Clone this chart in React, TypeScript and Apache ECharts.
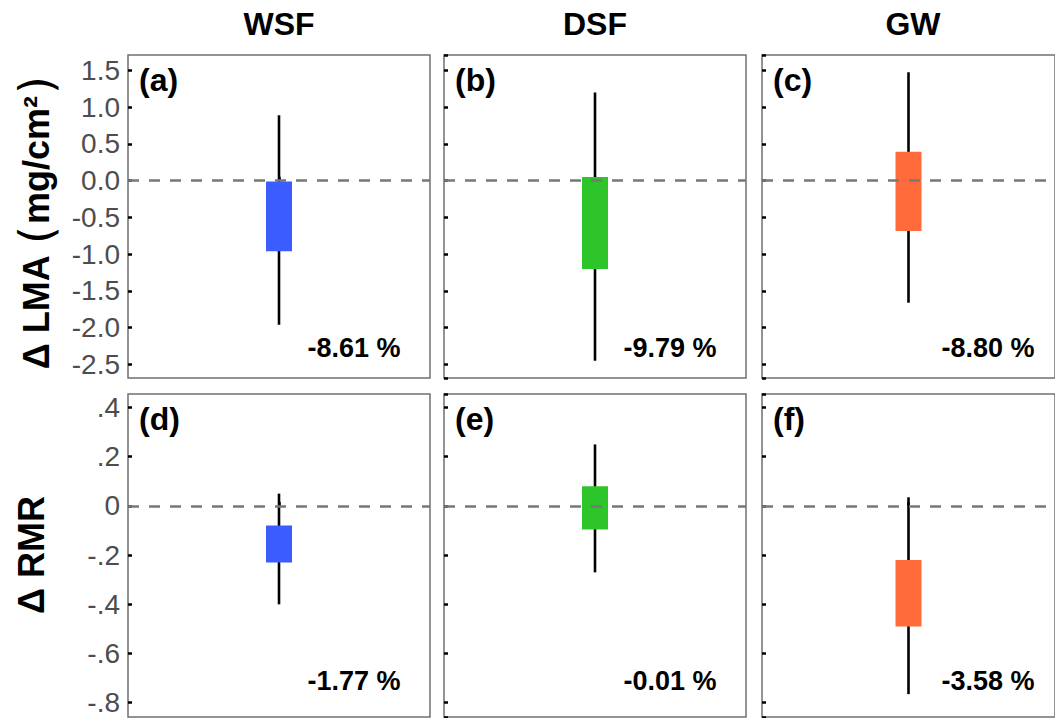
import React, { useEffect, useRef } from "react";
import * as echarts from "echarts";

const groups = ["WSF", "DSF", "GW"];
const groupColors = ["#3b5cff", "#2ec52a", "#ff6b3b"];

const lmaMax = [0.89, 1.2, 1.475];
const lmaQ3 = [-0.01, 0.05, 0.395];
const lmaQ1 = [-0.96, -1.2, -0.685];
const lmaMin = [-1.96, -2.45, -1.66];
const lmaPct = ["-8.61 %", "-9.79 %", "-8.80 %"];
const lmaLetters = ["(a)", "(b)", "(c)"];

const rmrMax = [0.05, 0.25, 0.035];
const rmrQ3 = [-0.08, 0.08, -0.22];
const rmrQ1 = [-0.23, -0.096, -0.49];
const rmrMin = [-0.4, -0.27, -0.765];
const rmrPct = ["-1.77 %", "-0.01 %", "-3.58 %"];
const rmrLetters = ["(d)", "(e)", "(f)"];

const lmaRange = [-2.684, 1.71];
const rmrRange = [-0.858, 0.455];

const panelLefts = [128, 444, 762];
const panelWidth = 302;
const rowTops = [55, 394];
const panelHeight = 323;

export default function App() {
  const ref = useRef<HTMLDivElement>(null);
  useEffect(() => {
    if (!ref.current) return;
    const chart = echarts.init(ref.current, null, { renderer: "svg" });
    const grids: any[] = [];
    const xAxes: any[] = [];
    const yAxes: any[] = [];
    const series: any[] = [];
    const graphics: any[] = [];

    const rows = [
      { max: lmaMax, q3: lmaQ3, q1: lmaQ1, min: lmaMin, pct: lmaPct, letters: lmaLetters, range: lmaRange, split: 9, fmt: (v: number) => v.toFixed(1) },
      {
        max: rmrMax, q3: rmrQ3, q1: rmrQ1, min: rmrMin, pct: rmrPct, letters: rmrLetters, range: rmrRange, split: 6,
        fmt: (v: number) => (Math.abs(v) < 1e-9 ? "0" : v.toFixed(1).replace("0.", ".")),
      },
    ];

    rows.forEach((row, r) => {
      groups.forEach((g, c) => {
        const idx = grids.length;
        grids.push({
          left: panelLefts[c],
          top: rowTops[r],
          width: panelWidth,
          height: panelHeight,
          show: true,
          borderColor: "#707070",
          borderWidth: 1.5,
          backgroundColor: "#ffffff",
        });
        xAxes.push({
          type: "category",
          gridIndex: idx,
          data: [g],
          axisLine: { show: false },
          axisLabel: { show: false },
          axisTick: { show: true, inside: true, alignWithLabel: true, length: 4, lineStyle: { color: "#000", width: 2.5 } },
          splitLine: { show: false },
        });
        yAxes.push({
          type: "value",
          gridIndex: idx,
          min: row.range[0],
          max: row.range[1],
          splitNumber: row.split,
          axisLine: { show: false },
          splitLine: { show: false },
          axisTick: { show: true, inside: true, length: 4, lineStyle: { color: "#000", width: 2.5 } },
          axisLabel: {
            show: c === 0,
            margin: 8,
            color: "#4d4d4d",
            fontSize: 28,
            fontFamily: "Liberation Sans, Arial, sans-serif",
            showMinLabel: false,
            showMaxLabel: false,
            formatter: (v: number) => row.fmt(v),
          },
        });
        series.push({
          type: "custom",
          xAxisIndex: idx,
          yAxisIndex: idx,
          data: [[0, row.max[c], row.q3[c], row.q1[c], row.min[c]]],
          encode: { x: 0, y: [1, 2, 3, 4] },
          renderItem: (params: any, api: any) => {
            const top = api.coord([api.value(0), api.value(1)]);
            const q3 = api.coord([api.value(0), api.value(2)]);
            const q1 = api.coord([api.value(0), api.value(3)]);
            const bot = api.coord([api.value(0), api.value(4)]);
            const w = 26;
            return {
              type: "group",
              children: [
                { type: "line", shape: { x1: top[0], y1: top[1], x2: bot[0], y2: bot[1] }, style: { stroke: "#000", lineWidth: 2.6 } },
                { type: "rect", shape: { x: q3[0] - w / 2, y: q3[1], width: w, height: q1[1] - q3[1] }, style: { fill: groupColors[c] } },
              ],
            };
          },
          markLine: {
            silent: true,
            symbol: "none",
            label: { show: false },
            lineStyle: { color: "#777777", width: 2.5, type: [11, 10] },
            data: [{ yAxis: 0 }],
          },
          z: 3,
        });
        graphics.push({
          type: "text",
          left: panelLefts[c] + 11,
          top: rowTops[r] + 9,
          style: { text: row.letters[c], font: "bold 32px Liberation Sans, Arial, sans-serif", fill: "#000" },
          z: 10,
        });
        graphics.push({
          type: "text",
          x: panelLefts[c] + 226,
          y: r === 0 ? 348 : 681,
          style: {
            text: row.pct[c],
            font: "bold 27px Liberation Sans, Arial, sans-serif",
            fill: "#000",
            align: "center",
            verticalAlign: "middle",
          },
          z: 10,
        });
      });
    });

    groups.forEach((g, c) => {
      graphics.push({
        type: "text",
        x: panelLefts[c] + panelWidth / 2,
        y: 24,
        style: { text: g, font: "bold 32px Liberation Sans, Arial, sans-serif", fill: "#000", align: "center", verticalAlign: "middle" },
      });
    });

    graphics.push({
      type: "text",
      x: 36,
      y: 222,
      rotation: Math.PI / 2,
      style: {
        text: "{b|Δ LMA }{p|(}{b|mg/cm²}{p|)}",
        align: "center",
        verticalAlign: "middle",
        rich: {
          b: { font: "bold 36px Liberation Sans, Arial, sans-serif", fill: "#000" },
          p: { font: "46px DejaVu Sans, sans-serif", fill: "#000", padding: [0, 2, 0, 2] },
        },
      },
    });
    graphics.push({
      type: "text",
      x: 31,
      y: 555,
      rotation: Math.PI / 2,
      style: {
        text: "Δ RMR",
        font: "bold 36px Liberation Sans, Arial, sans-serif",
        fill: "#000",
        align: "center",
        verticalAlign: "middle",
      },
    });

    chart.setOption({
      animation: false,
      backgroundColor: "#ffffff",
      grid: grids,
      xAxis: xAxes,
      yAxis: yAxes,
      series,
      graphic: graphics,
    });
    return () => chart.dispose();
  }, []);

  return <div ref={ref} style={{ position: "fixed", left: 0, top: 0, width: 1055, height: 718 }} />;
}
